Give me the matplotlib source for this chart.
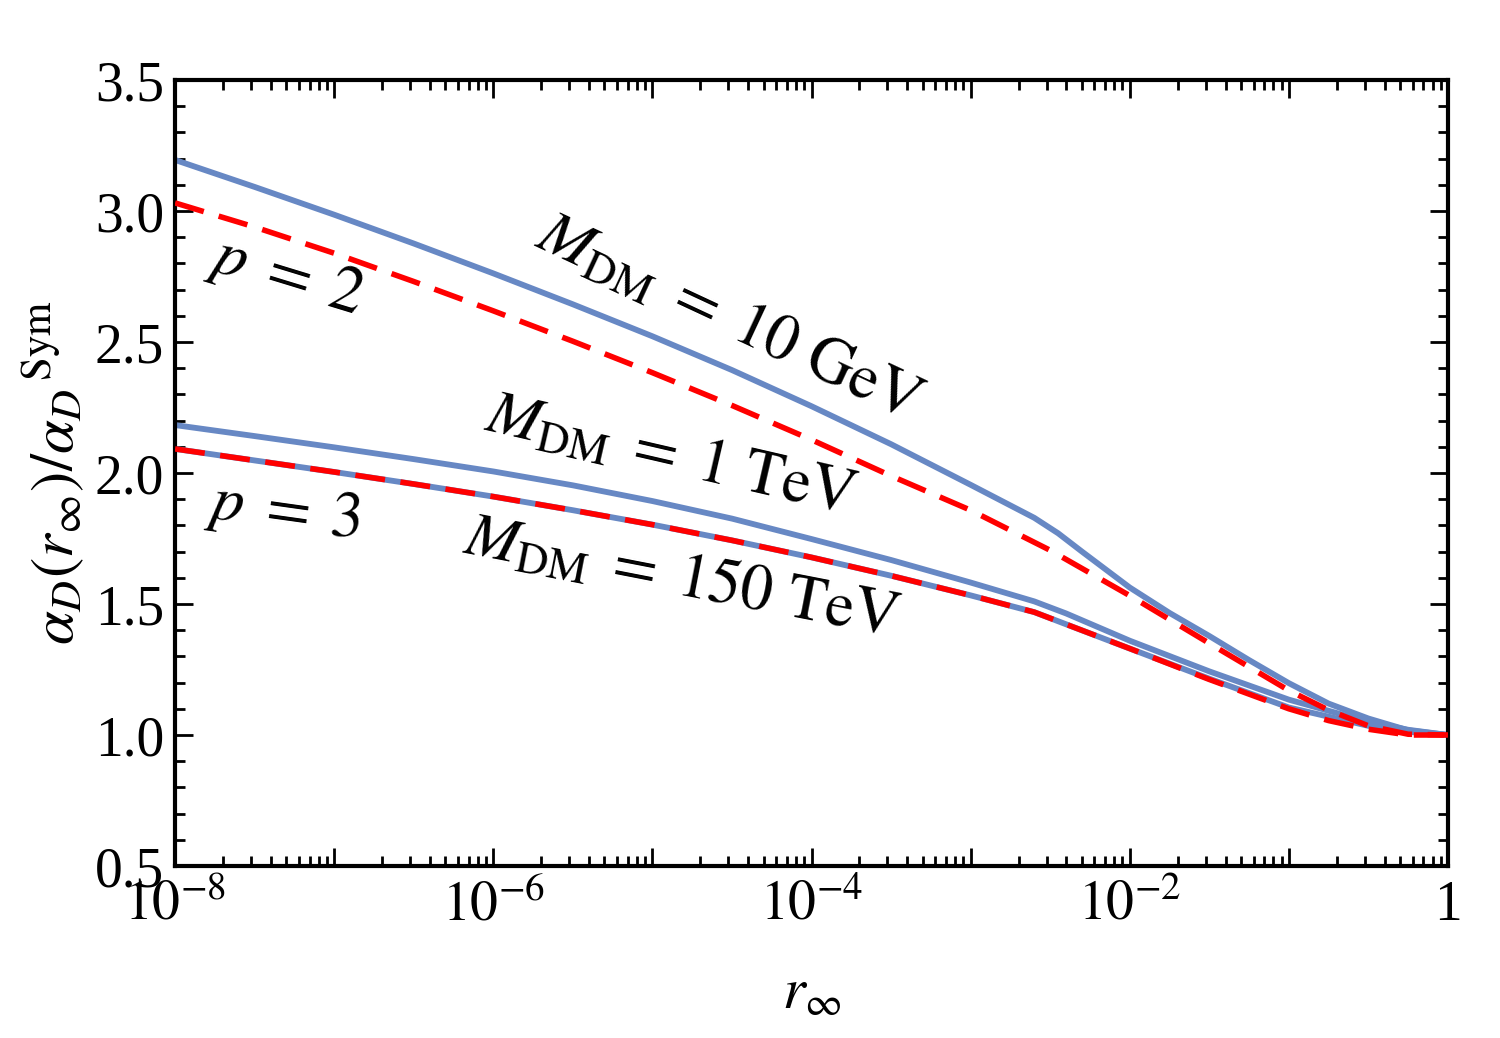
import numpy as np
import matplotlib.pyplot as plt
from matplotlib.ticker import FixedLocator, FixedFormatter, LogLocator, MultipleLocator, NullFormatter

plt.rcParams['font.family'] = ['Liberation Serif', 'DejaVu Serif']
plt.rcParams['mathtext.fontset'] = 'stix'

# curves, x given as log10(r_inf)
lgr_10gev = [-8, -7.5, -7, -6.5, -6, -5.5, -5, -4.5, -4, -3.5, -3, -2.8, -2.6, -2.45, -2.3, -2,
             -1.75, -1.5, -1.25, -1, -0.75, -0.5, -0.25, 0]
a_10gev = [3.195, 3.092, 2.986, 2.876, 2.762, 2.644, 2.522, 2.393, 2.255, 2.110, 1.955, 1.892,
           1.829, 1.770, 1.700, 1.563, 1.466, 1.378, 1.286, 1.198, 1.120, 1.063, 1.018, 1.0]

lgr_p2 = [-8, -7.5, -7, -6.5, -6, -5.5, -5, -4.5, -4, -3.5, -3, -2.5, -2,
          -1.5, -1, -0.75, -0.5, -0.25, 0]
a_p2 = [3.031, 2.939, 2.839, 2.731, 2.619, 2.503, 2.383, 2.258, 2.127, 1.989, 1.858, 1.705,
        1.532, 1.350, 1.170, 1.095, 1.035, 1.003, 1.0]

lgr_1tev = [-8, -7.5, -7, -6.5, -6, -5.5, -5, -4.5, -4, -3.5, -3, -2.8, -2.6, -2.4, -2,
            -1.5, -1, -0.5, -0.25, 0]
a_1tev = [2.183, 2.141, 2.098, 2.053, 2.006, 1.953, 1.893, 1.826, 1.748, 1.668, 1.582, 1.546,
          1.510, 1.464, 1.360, 1.243, 1.135, 1.050, 1.020, 1.0]

lgr_150tev = [-8, -7.5, -7, -6.5, -6, -5.5, -5, -4.5, -4, -3.5, -3, -2.6, -2,
              -1.5, -1, -0.5, -0.25, 0]
a_150tev = [2.092, 2.048, 2.004, 1.958, 1.910, 1.858, 1.803, 1.743, 1.678, 1.608, 1.533, 1.469,
            1.330, 1.215, 1.105, 1.035, 1.012, 1.0]

lgr_p3 = [-8, -7.5, -7, -6.5, -6, -5.5, -5, -4.5, -4, -3.5, -3, -2.6, -2,
          -1.5, -1, -0.75, -0.5, -0.25, 0]
a_p3 = [2.092, 2.048, 2.004, 1.958, 1.910, 1.858, 1.803, 1.743, 1.678, 1.608, 1.533, 1.469,
        1.330, 1.212, 1.100, 1.055, 1.022, 1.0, 1.0]

xtick_labels = [r'$10^{-8}$', '', r'$10^{-6}$', '', r'$10^{-4}$', '', r'$10^{-2}$', '', '1']

blue = '#6788C4'
red = '#FF0000'

fig = plt.figure(figsize=(15, 10.38), dpi=100)
ax = fig.add_axes([0.1167, 0.1657, 0.8486, 0.7572])

for lg, a in [(lgr_10gev, a_10gev), (lgr_1tev, a_1tev), (lgr_150tev, a_150tev)]:
    ax.plot(10.0 ** np.array(lg), a, color=blue, lw=4.2, solid_capstyle='butt', zorder=2)
for lg, a in [(lgr_p2, a_p2), (lgr_p3, a_p3)]:
    ax.plot(10.0 ** np.array(lg), a, color=red, lw=4, dashes=(5.4, 2.8), zorder=3)

ax.set_xscale('log')
ax.set_xlim(1e-8, 1)
ax.set_ylim(0.5, 3.5)

ax.xaxis.set_major_locator(FixedLocator([10.0 ** k for k in range(-8, 1)]))
ax.xaxis.set_major_formatter(FixedFormatter(xtick_labels))
ax.xaxis.set_minor_locator(LogLocator(base=10, subs=np.arange(2, 10), numticks=100))
ax.xaxis.set_minor_formatter(NullFormatter())
ax.yaxis.set_major_locator(MultipleLocator(0.5))
ax.yaxis.set_minor_locator(MultipleLocator(0.1))
ax.yaxis.set_major_formatter(lambda v, pos: '%.1f' % v)

ax.tick_params(which='both', direction='in', top=True, right=True, labelsize=40)
ax.tick_params(which='major', length=13, width=2)
ax.tick_params(which='minor', length=7, width=2)
ax.tick_params(axis='x', pad=10)
ax.tick_params(axis='y', pad=8)
for s in ax.spines.values():
    s.set_linewidth(3)

ax.set_xlabel(r'$r_\infty$', fontsize=42, labelpad=26)
ax.set_ylabel(r'$\alpha_D(r_\infty)/\alpha_D{}^{\,\mathrm{Sym}}$', fontsize=44, labelpad=6)

tk = dict(transform=ax.transAxes, ha='center', va='center', rotation_mode='anchor', fontsize=46)
ax.text(0.087, 0.75, r'$p\;=\;2$', rotation=-17, **tk)
ax.text(0.434, 0.695, r'$M_{\mathrm{DM}}\;=\;10\ \mathrm{GeV}$', rotation=-25, **tk)
ax.text(0.389, 0.519, r'$M_{\mathrm{DM}}\;=\;1\ \mathrm{TeV}$', rotation=-13, **tk)
ax.text(0.085, 0.45, r'$p\;=\;3$', rotation=-8, **tk)
ax.text(0.397, 0.364, r'$M_{\mathrm{DM}}\;=\;150\ \mathrm{TeV}$', rotation=-11, **tk)

fig.savefig('out.png', dpi=100)
